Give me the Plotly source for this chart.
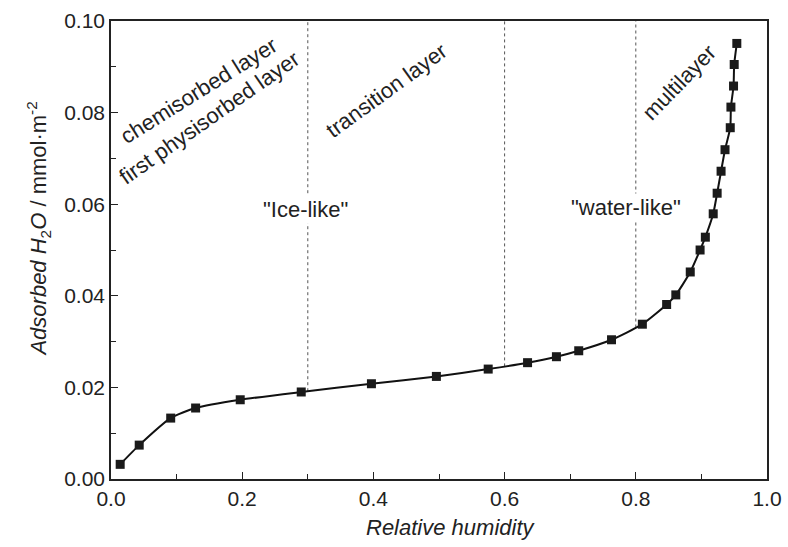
import numpy as np
import plotly.graph_objects as go

# Data
rh = [0.014, 0.043, 0.091, 0.129, 0.197, 0.290, 0.397, 0.496, 0.575, 0.635,
      0.679, 0.713, 0.763, 0.810, 0.847, 0.861, 0.883, 0.898, 0.906, 0.918,
      0.924, 0.930, 0.936, 0.944, 0.945, 0.949, 0.950, 0.954]
adsorbed = [0.0032, 0.0074, 0.0133, 0.0155, 0.0173, 0.0190, 0.0208, 0.0224, 0.0240, 0.0254,
            0.0267, 0.0280, 0.0304, 0.0338, 0.0381, 0.0402, 0.0452, 0.0500, 0.0528, 0.0579,
            0.0624, 0.0672, 0.0719, 0.0767, 0.0812, 0.0858, 0.0905, 0.0951]

region_bounds = [0.3, 0.6, 0.8]

label_texts = ["chemisorbed layer", "first physisorbed layer", "transition layer",
               "multilayer", '"Ice-like"', '"water-like"']
label_x = [0.134, 0.150, 0.420, 0.866, 0.296, 0.785]
label_y = [0.0848, 0.0790, 0.0848, 0.0866, 0.0588, 0.0592]
label_angle = [-32, -35, -36, -46, 0, 0]

x_ticks = [0.0, 0.2, 0.4, 0.6, 0.8, 1.0]
y_ticks = [0.00, 0.02, 0.04, 0.06, 0.08, 0.10]

x_title = "<i>Relative humidity</i>"
y_title = "<i>Adsorbed H</i><sub>2</sub><i>O</i> / mmol·m<sup>-2</sup>"

FONT = "Liberation Sans, Arial, sans-serif"
TXT = "#222222"
FS = 21

fig = go.Figure()

fig.add_trace(go.Scatter(
    x=rh, y=adsorbed, mode="lines+markers",
    line=dict(color="#111111", width=2, shape="spline", smoothing=0.6),
    marker=dict(symbol="square", size=9, color="#1a1a1a"),
    showlegend=False, hoverinfo="skip",
))

shapes = []
for b in region_bounds:
    y0 = float(np.interp(b, rh, adsorbed))
    shapes.append(dict(type="line", xref="x", yref="y", x0=b, x1=b, y0=y0, y1=0.1,
                       line=dict(color="#555555", width=1, dash="dot"), layer="below"))

annotations = []
for t, x, y, a in zip(label_texts, label_x, label_y, label_angle):
    annotations.append(dict(x=x, y=y, xref="x", yref="y", text=t, showarrow=False,
                            textangle=a, font=dict(family=FONT, size=22, color=TXT),
                            bgcolor="white" if a == 0 else "rgba(0,0,0,0)"))

# axis titles as annotations so they can sit where the reference puts them
annotations.append(dict(x=0.518, y=-0.105, xref="paper", yref="paper", text=x_title,
                        showarrow=False, xanchor="center", yanchor="middle",
                        font=dict(family=FONT, size=22, color=TXT)))
annotations.append(dict(x=-0.111, y=0.545, xref="paper", yref="paper", text=y_title,
                        showarrow=False, xanchor="center", yanchor="middle", textangle=-90,
                        font=dict(family=FONT, size=22, color=TXT)))

fig.update_layout(
    width=788, height=547,
    margin=dict(l=111, r=21, t=21, b=68, autoexpand=False),
    paper_bgcolor="white", plot_bgcolor="white",
    shapes=shapes, annotations=annotations,
    font=dict(family=FONT, size=FS, color=TXT),
)

fig.update_xaxes(
    range=[0, 1.0], tickvals=x_ticks, ticktext=[f"{v:.1f}" for v in x_ticks],
    ticks="inside", ticklen=7, tickwidth=1.3, tickcolor="#222",
    minor=dict(dtick=0.1, ticks="inside", ticklen=5, tickcolor="#222", tick0=0),
    showline=True, linecolor="#222", linewidth=1.5, mirror=True,
    showgrid=False, zeroline=False, automargin=False,
    tickfont=dict(family=FONT, size=FS, color=TXT),
)
fig.update_yaxes(
    range=[0, 0.1], tickvals=y_ticks, ticktext=[f"{v:.2f}" for v in y_ticks],
    ticks="inside", ticklen=7, tickwidth=1.3, tickcolor="#222",
    minor=dict(dtick=0.01, ticks="inside", ticklen=5, tickcolor="#222", tick0=0),
    showline=True, linecolor="#222", linewidth=1.5, mirror=True,
    showgrid=False, zeroline=False, automargin=False,
    tickfont=dict(family=FONT, size=FS, color=TXT),
)

fig.write_html("out.html", config={"displayModeBar": False},
               post_script="document.body.style.margin='0';document.body.style.overflow='hidden';")
